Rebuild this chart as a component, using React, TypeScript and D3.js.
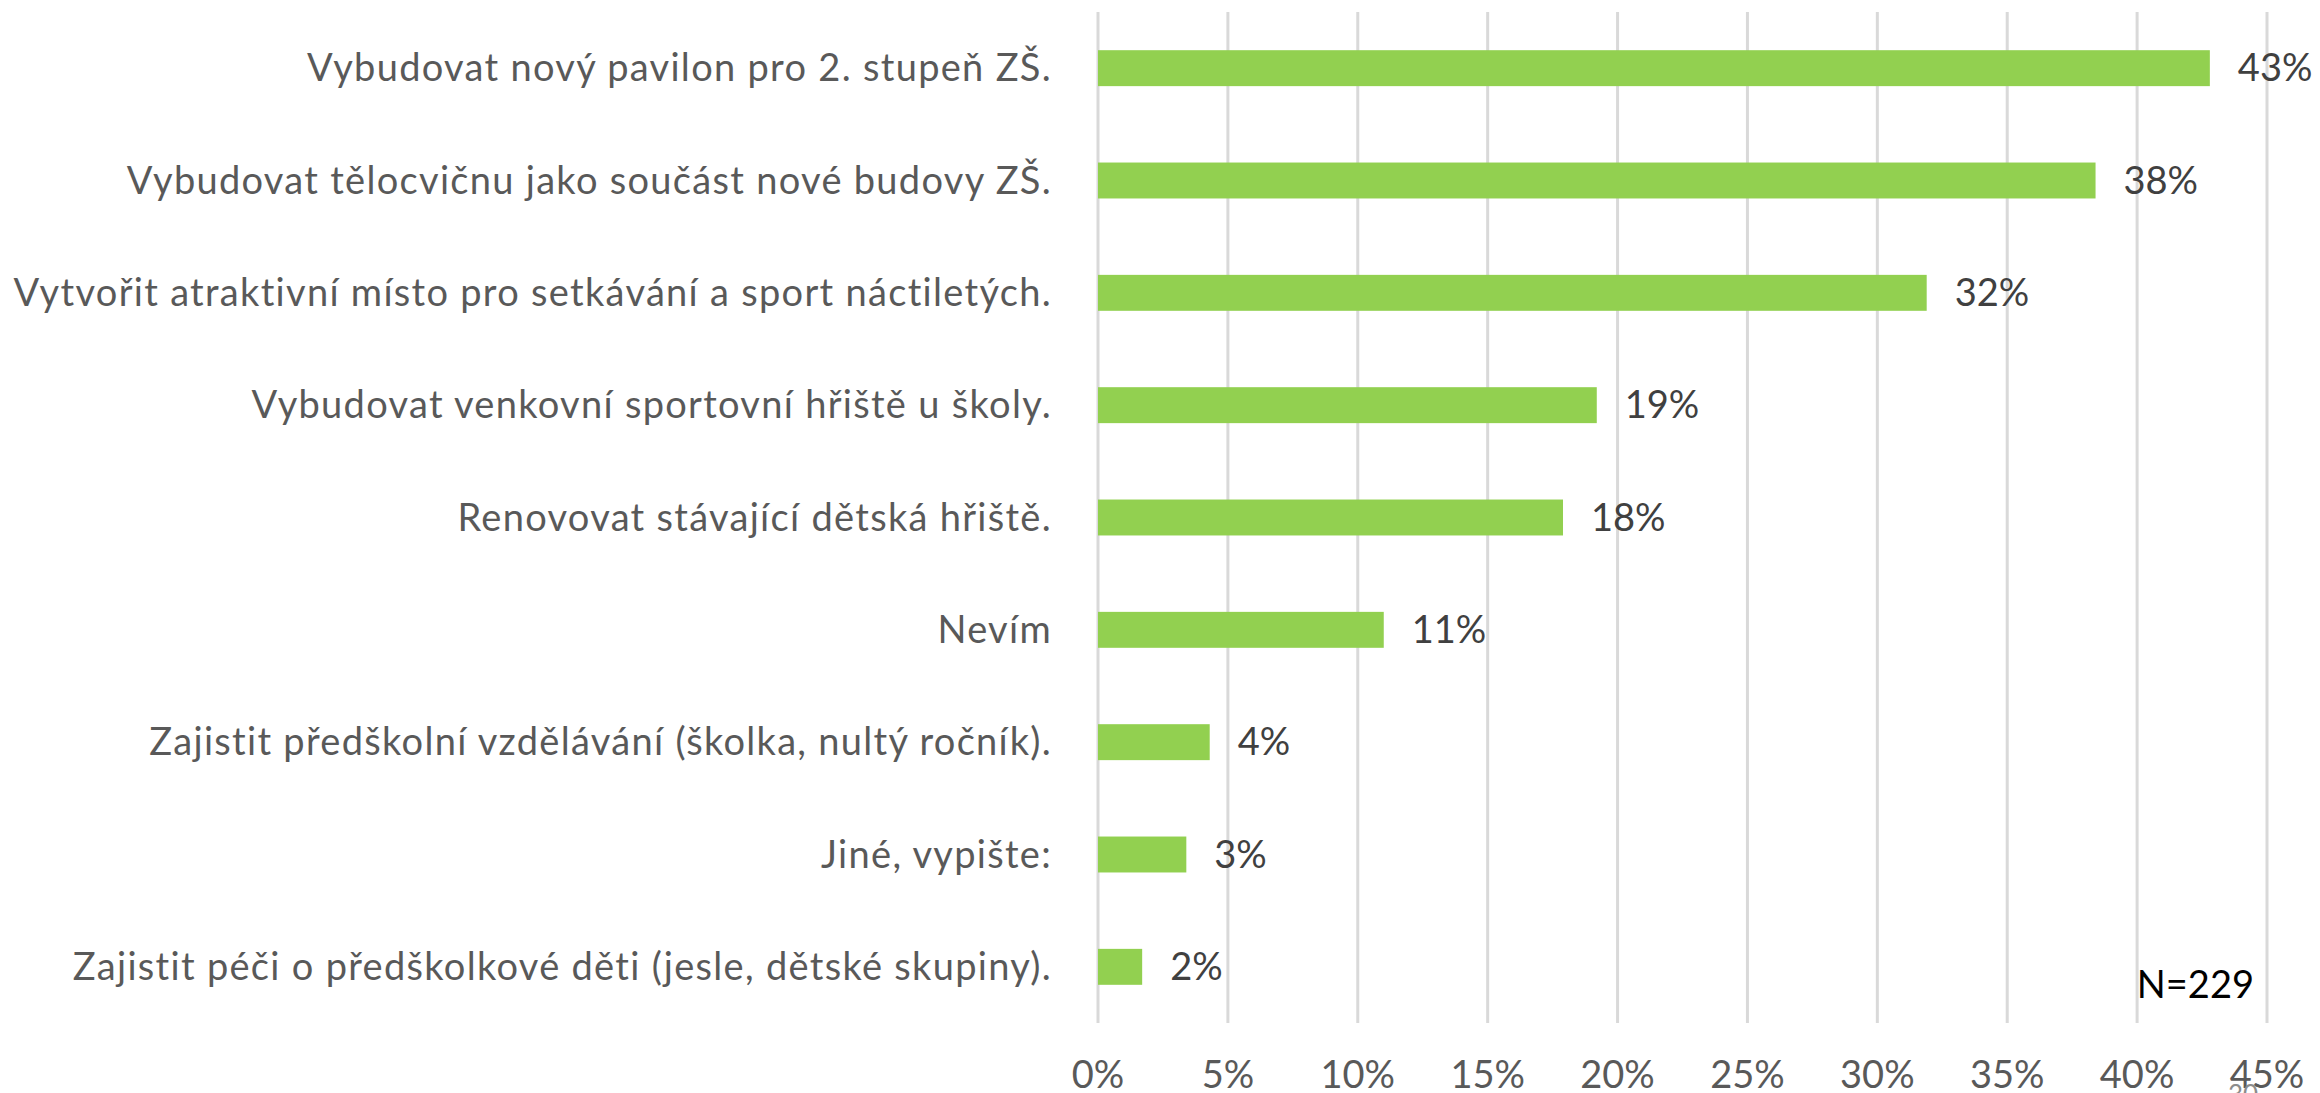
import React, { useEffect, useRef } from 'react';
import * as d3 from 'd3';

const categories = [
  'Vybudovat nový pavilon pro 2. stupeň ZŠ.',
  'Vybudovat tělocvičnu jako součást nové budovy ZŠ.',
  'Vytvořit atraktivní místo pro setkávání a sport náctiletých.',
  'Vybudovat venkovní sportovní hřiště u školy.',
  'Renovovat stávající dětská hřiště.',
  'Nevím',
  'Zajistit předškolní vzdělávání (školka, nultý ročník).',
  'Jiné, vypište:',
  'Zajistit péči o předškolkové děti (jesle, dětské skupiny).',
];
const values = [42.8, 38.4, 31.9, 19.2, 17.9, 11.0, 4.3, 3.4, 1.7];
const ticks = [0, 5, 10, 15, 20, 25, 30, 35, 40, 45];
const note = 'N=229';
const pageNo = '30';

const W = 2320;
const H = 1093;
const FONT = 'Lato, "Open Sans", sans-serif';

const App = () => {
  const ref = useRef<SVGSVGElement>(null);

  useEffect(() => {
    const svg = d3.select(ref.current);
    svg.selectAll('*').remove();

    const margin = { top: 12, right: 53, bottom: 70, left: 1098 };
    const x = d3.scaleLinear().domain([0, 45]).range([margin.left, W - margin.right]);
    const y = d3.scaleBand<number>()
      .domain(d3.range(categories.length))
      .range([margin.top, H - margin.bottom])
      .paddingInner(0.68)
      .paddingOuter(0.34);

    // vertical gridlines
    svg.append('g')
      .selectAll('line')
      .data(ticks)
      .join('line')
      .attr('x1', d => x(d))
      .attr('x2', d => x(d))
      .attr('y1', margin.top)
      .attr('y2', H - margin.bottom)
      .attr('stroke', '#d9d9d9')
      .attr('stroke-width', 3);

    // tick labels (the bottom edge clips them, as in the source slide)
    svg.append('g')
      .attr('font-family', FONT)
      .attr('font-size', 38)
      .attr('fill', '#595959')
      .attr('text-anchor', 'middle')
      .selectAll('text')
      .data(ticks)
      .join('text')
      .attr('x', d => x(d))
      .attr('y', 1088)
      .text(d => `${d}%`);

    // bars
    svg.append('g')
      .attr('fill', '#92d050')
      .selectAll('rect')
      .data(values)
      .join('rect')
      .attr('x', x(0))
      .attr('y', (d, i) => y(i)!)
      .attr('width', d => x(d) - x(0))
      .attr('height', y.bandwidth());

    // value labels
    svg.append('g')
      .attr('font-family', FONT)
      .attr('font-size', 38)
      .attr('fill', '#404040')
      .selectAll('text')
      .data(values)
      .join('text')
      .attr('x', d => x(d) + 28)
      .attr('y', (d, i) => y(i)! + y.bandwidth() / 2)
      .attr('dy', '0.35em')
      .text(d => `${Math.round(d)}%`);

    // category labels
    svg.append('g')
      .attr('font-family', FONT)
      .attr('font-size', 38)
      .attr('letter-spacing', 1.3)
      .attr('fill', '#595959')
      .attr('text-anchor', 'end')
      .selectAll('text')
      .data(categories)
      .join('text')
      .attr('x', margin.left - 46)
      .attr('y', (d, i) => y(i)! + y.bandwidth() / 2)
      .attr('dy', '0.35em')
      .text(d => d);

    svg.append('text')
      .attr('x', 2254)
      .attr('y', 998)
      .attr('text-anchor', 'end')
      .attr('font-family', FONT)
      .attr('font-size', 38)
      .attr('fill', '#000')
      .text(note);

    svg.append('text')
      .attr('x', 2228)
      .attr('y', 1104)
      .attr('font-family', FONT)
      .attr('font-size', 26)
      .attr('fill', '#8c8c8c')
      .text(pageNo);
  }, []);

  return (
    <svg
      ref={ref}
      width={W}
      height={H}
      style={{ position: 'absolute', left: 0, top: 0, background: '#fff' }}
    />
  );
};

export default App;
